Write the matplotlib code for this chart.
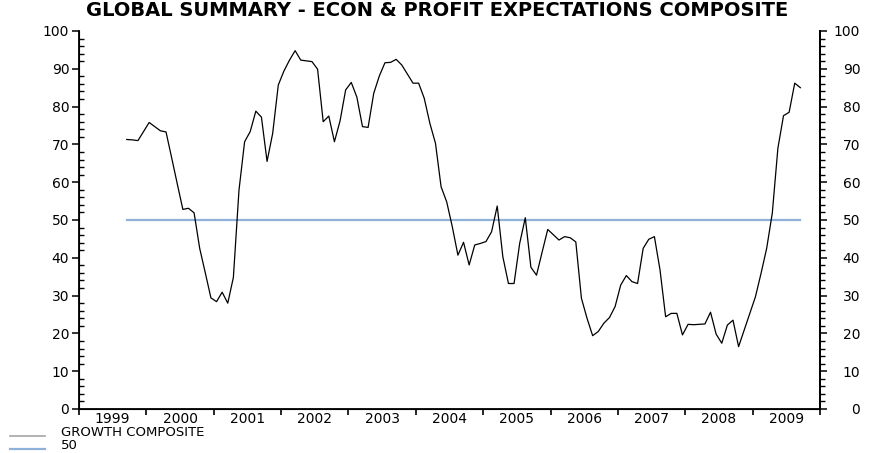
'''
Global summary - econ & profit expectations composite
'''

import numpy as np
import matplotlib
matplotlib.use('Agg')
import matplotlib.pyplot as plt
from matplotlib.lines import Line2D
from matplotlib.ticker import MultipleLocator, FixedLocator, NullFormatter

# monthly series, Sep 1999 .. Sep 2009
start_year = 1999
start_month = 9
growth = [
    71.3, 71.2, 71.0, 73.4, 75.8, 74.7, 73.6, 73.3, 66.5, 59.6,
    52.8, 53.1, 51.9, 42.5, 36.0, 29.4, 28.4, 30.9, 28.0, 34.8,
    57.9, 70.7, 73.4, 78.8, 77.2, 65.5, 72.9, 85.7, 89.4, 92.3,
    94.8, 92.3, 92.1, 91.9, 89.9, 76.0, 77.5, 70.7, 76.2, 84.4,
    86.4, 82.5, 74.7, 74.5, 83.5, 88.1, 91.6, 91.7, 92.5, 91.0,
    88.6, 86.2, 86.2, 82.2, 75.6, 70.3, 58.8, 54.8, 48.2, 40.7,
    44.1, 38.1, 43.4, 43.8, 44.3, 46.9, 53.7, 40.3, 33.2, 33.2,
    43.8, 50.6, 37.5, 35.4, 41.5, 47.5, 46.1, 44.7, 45.6, 45.3,
    44.2, 29.3, 24.0, 19.4, 20.5, 22.7, 24.2, 27.1, 32.8, 35.3,
    33.7, 33.2, 42.5, 44.9, 45.6, 36.8, 24.4, 25.3, 25.3, 19.6,
    22.4, 22.3, 22.4, 22.5, 25.6, 19.8, 17.4, 22.2, 23.5, 16.5,
    20.9, 25.3, 29.7, 35.9, 42.5, 51.8, 69.0, 77.6, 78.5, 86.2,
    85.0,
]
level = 50
years = list(range(1999, 2010))
title = 'GLOBAL SUMMARY - ECON & PROFIT EXPECTATIONS COMPOSITE'
legend_labels = ['GROWTH COMPOSITE', '50']

BLUE = '#8fb1da'
GRAY = '#a6a6a6'
W, H = 880, 453

# decimal year at mid-month
x = start_year + (start_month - 1 + np.arange(len(growth)) + 0.5) / 12.0

fig = plt.figure(figsize=(W / 100, H / 100), dpi=100)
ax = fig.add_axes([79 / W, 1 - 409 / H, (820 - 79) / W, (409 - 31) / H])

ax.plot(x, [level] * len(x), color=BLUE, lw=1.6, zorder=2)
ax.plot(x, growth, color='black', lw=0.9, zorder=3)

ax.set_xlim(years[0], years[-1] + 1)
ax.set_ylim(0, 100)

ax.spines['top'].set_visible(False)
for s in ['left', 'right', 'bottom']:
    ax.spines[s].set_linewidth(1.3)

# x axis: ticks at year boundaries, labels at mid-year
ax.xaxis.set_major_locator(FixedLocator(years + [years[-1] + 1]))
ax.xaxis.set_major_formatter(NullFormatter())
ax.xaxis.set_minor_locator(FixedLocator([y + 0.5 for y in years]))
ax.set_xticklabels([str(y) for y in years], minor=True)
ax.tick_params(axis='x', which='major', direction='out', length=4, width=1.2)
ax.tick_params(axis='x', which='minor', length=0, pad=2.5, labelsize=10)

# left y axis
ax.yaxis.set_major_locator(MultipleLocator(10))
ax.yaxis.set_minor_locator(MultipleLocator(2))
ax.tick_params(axis='y', which='major', direction='out', length=5, width=1.1,
               labelsize=10, pad=2)
ax.tick_params(axis='y', which='minor', direction='in', length=3.5, width=1.0)

# right y axis
ax2 = ax.twinx()
ax2.set_ylim(0, 100)
ax2.spines['top'].set_visible(False)
ax2.spines['right'].set_linewidth(1.3)
ax2.yaxis.set_major_locator(MultipleLocator(10))
ax2.yaxis.set_minor_locator(MultipleLocator(2))
ax2.tick_params(axis='y', which='major', direction='out', length=5, width=1.1,
                labelsize=10, pad=24)
ax2.tick_params(axis='y', which='minor', direction='out', length=3.5, width=1.0)
for lbl in ax2.get_yticklabels():
    lbl.set_horizontalalignment('right')

fig.text(0.497, 1 - 11 / H, title, ha='center', va='center',
         fontsize=14, fontweight='bold')

# legend below the axis, one row per series
swatch_colors = [GRAY, BLUE]
row_base = [436, 449]
for lab, col, yb in zip(legend_labels, swatch_colors, row_base):
    fy = 1 - yb / H
    fig.add_artist(Line2D([10 / W, 45 / W], [fy, fy], color=col,
                          lw=1.2 if col == GRAY else 1.6,
                          transform=fig.transFigure))
    fig.text(61 / W, fy, lab, ha='left', va='baseline', fontsize=9.5)

plt.savefig('out.png', dpi=100)
